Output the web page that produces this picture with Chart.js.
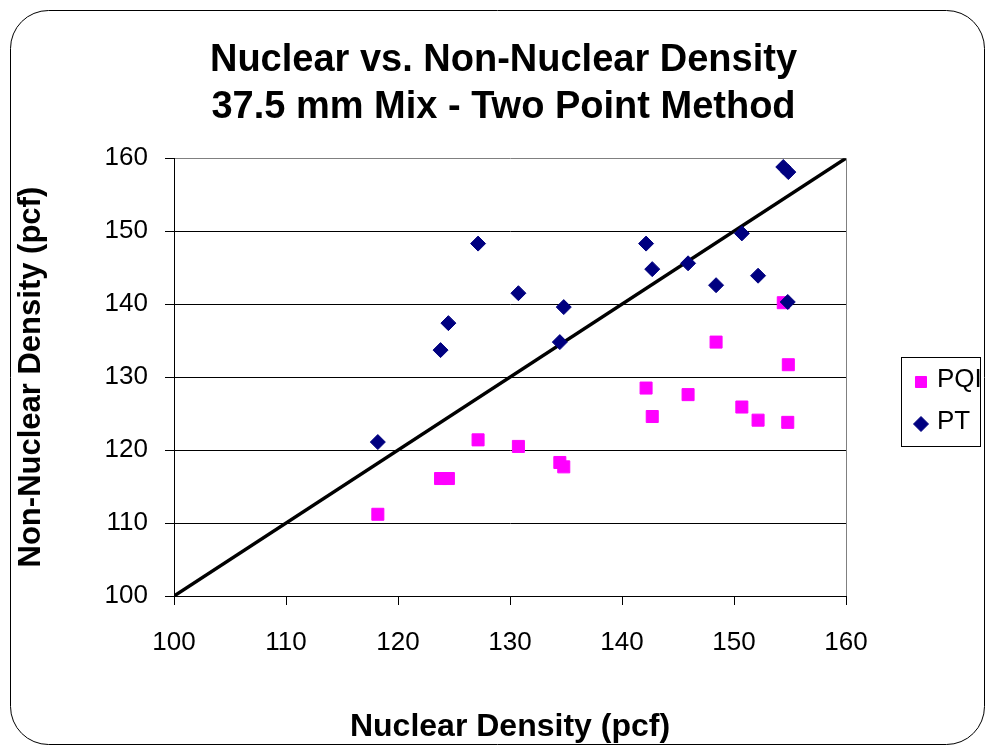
<!DOCTYPE html>
<html>
<head>
<meta charset="utf-8">
<script src="https://cdn.jsdelivr.net/npm/chart.js@4.4.1/dist/chart.umd.min.js"></script>
<style>
  html, body { margin: 0; padding: 0; background: #fff; }
  #wrap { width: 987px; height: 749px; }
</style>
</head>
<body>
<div id="wrap"><canvas id="chart" width="987" height="749"></canvas></div>
<script>
const $ = (s) => document.querySelector(s);

// tick values shared by both axes (pcf)
const axisTicks = [100, 110, 120, 130, 140, 150, 160];

// nuclear gauge density at each test location
const nuclear = [118.2, 123.8, 124.5, 127.15, 130.75, 134.45, 134.8, 142.15, 142.7, 145.9, 148.4, 150.7, 152.15, 154.4, 154.85, 154.8];
// non-nuclear readings at the same locations
const pqi = [111.2, 116.1, 116.1, 121.4, 120.5, 118.3, 117.7, 128.5, 124.6, 127.6, 134.8, 125.9, 124.1, 140.2, 131.7, 123.8];
const pt = [121.1, 133.7, 137.4, 148.3, 141.5, 134.8, 139.6, 148.3, 144.8, 145.6, 142.6, 149.7, 143.9, 158.8, 158.1, 140.3];

// line of equality
const lineX = [100, 160];
const lineY = [100, 160];

const FONT = '"Liberation Sans", Arial, sans-serif';
const pairs = (xs, ys) => xs.map((x, i) => ({ x, y: ys[i] }));

// rounded frame round the whole chart
const frame = {
  id: "frame",
  beforeDraw(c) {
    const ctx = c.ctx;
    ctx.save();
    ctx.strokeStyle = "#000";
    ctx.lineWidth = 1;
    ctx.beginPath();
    ctx.roundRect(10.5, 10.5, 974, 734, 38);
    ctx.stroke();
    ctx.restore();
  },
};

// boxed legend to the right of the plot, like the original
const boxLegend = {
  id: "boxLegend",
  afterDraw(c) {
    const { ctx, chartArea } = c;
    const x = Math.round(chartArea.right) + 55, y = 357;
    ctx.save();
    ctx.strokeStyle = "#000";
    ctx.lineWidth = 1;
    ctx.strokeRect(x + 0.5, y + 0.5, 79, 89);
    ctx.font = `26px ${FONT}`;
    ctx.textBaseline = "alphabetic";
    c.data.datasets.filter((d) => d.label).forEach((d, i) => {
      const cy = y + 25 + i * 42;
      ctx.fillStyle = d.backgroundColor;
      ctx.strokeStyle = d.borderColor;
      Chart.helpers.drawPoint(ctx, { pointStyle: d.pointStyle, radius: d.legendRadius, borderWidth: 1, rotation: 0 }, x + 20, cy);
      ctx.fillStyle = "#000";
      ctx.fillText(d.label, x + 36, cy + 5);
    });
    ctx.restore();
  },
};

const tickFont = { family: FONT, size: 26 };
const titleFont = { family: FONT, size: 31, weight: "bold" };
const lo = axisTicks[0], hi = axisTicks[axisTicks.length - 1], step = axisTicks[1] - axisTicks[0];

new Chart($("#chart"), {
  type: "scatter",
  data: {
    datasets: [
      {
        label: "PQI",
        data: pairs(nuclear, pqi),
        pointStyle: "rect",
        pointRadius: 8.5,
        legendRadius: 7.8,
        backgroundColor: "#FF00FF",
        borderColor: "#FF00FF",
        borderWidth: 1,
        order: 1,
      },
      {
        label: "PT",
        data: pairs(nuclear, pt),
        pointStyle: "rectRot",
        pointRadius: 7.5,
        legendRadius: 7.5,
        backgroundColor: "#000080",
        borderColor: "#000080",
        borderWidth: 1,
        order: 0,
      },
      {
        label: "",
        data: pairs(lineX, lineY),
        showLine: true,
        pointRadius: 0,
        borderColor: "#000",
        borderWidth: 3.5,
        order: 2,
      },
    ],
  },
  options: {
    responsive: false,
    animation: false,
    devicePixelRatio: 1,
    layout: { padding: { left: 20, right: 0, top: 10, bottom: 0 } },
    plugins: {
      legend: { display: false },
      tooltip: { enabled: false },
      title: {
        display: true,
        text: ["Nuclear vs. Non-Nuclear Density", "37.5 mm Mix - Two Point Method"],
        color: "#000",
        font: { family: FONT, size: 38, weight: "bold", lineHeight: 1.24 },
        padding: { top: 27, bottom: 27 },
      },
    },
    scales: {
      x: {
        type: "linear",
        min: lo,
        max: hi,
        ticks: { stepSize: step, color: "#000", font: tickFont, padding: 22, maxRotation: 0 },
        grid: {
          color: (c) => (c.tick && c.tick.value === hi ? "#808080" : "rgba(0,0,0,0)"),
          tickColor: "#000",
          tickLength: 9,
        },
        border: { color: "#000", width: 1 },
        title: { display: true, text: "Nuclear Density (pcf)", color: "#000", font: { ...titleFont, size: 32, lineHeight: 1.2 }, padding: { top: 0, bottom: 3 } },
        afterFit: (s) => { s.height = 153; },
      },
      y: {
        type: "linear",
        min: lo,
        max: hi,
        ticks: { stepSize: step, color: "#000", font: tickFont, padding: 17 },
        grid: {
          color: (c) => (c.tick && c.tick.value === hi ? "#808080" : "#000"),
          tickColor: "#000",
          tickLength: 9,
        },
        border: { color: "#000", width: 1 },
        title: { display: true, text: "Non-Nuclear Density (pcf)", color: "#000", font: { ...titleFont, lineHeight: 0.74 }, padding: { top: 0, bottom: 0 } },
        afterFit: (s) => { s.width = 154; },
      },
      // empty strip on the right that holds the legend
      gap: {
        position: "right",
        display: true,
        ticks: { display: false },
        grid: { display: false, drawTicks: false },
        border: { display: false },
        afterFit: (s) => { s.width = 141; },
      },
    },
  },
  plugins: [frame, boxLegend],
});
</script>
</body>
</html>
